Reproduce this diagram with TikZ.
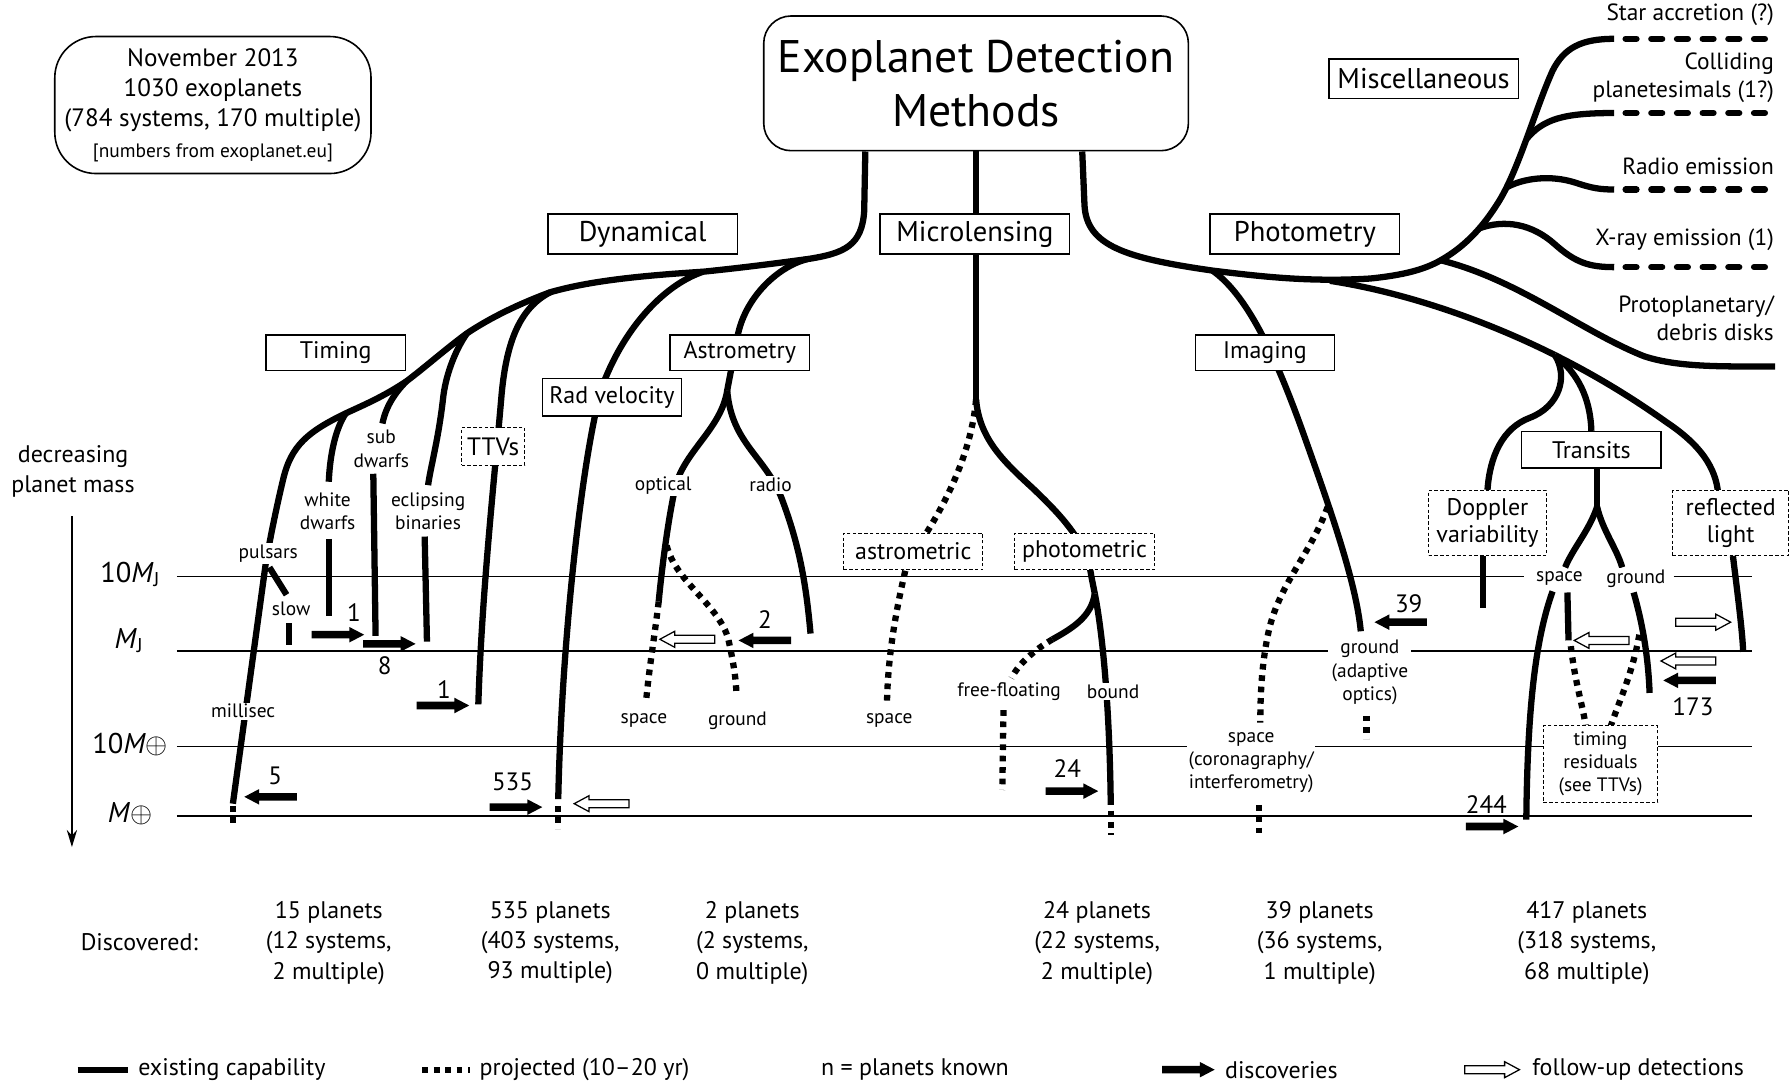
\documentclass[tikz,border=0pt]{standalone}
\usepackage{fontspec}
\setmainfont{PT Sans}
\usetikzlibrary{arrows.meta,backgrounds}

\newcommand{\fsz}[2]{\fontsize{#1}{#2}\selectfont}

\tikzset{
  exist/.style={line width=5.5pt},
  proj/.style={line width=5.5pt, dash pattern=on 5pt off 5pt},
  miscline/.style={line width=5.5pt, line cap=round, dash pattern=on 9.5pt off 13pt},
  level/.style={line width=1.4pt},
  catbox/.style={draw, line width=1.3pt, fill=white, inner sep=0pt,
    minimum width=166pt, minimum height=35pt, font=\fsz{25}{28}},
  subbox/.style={draw, line width=1.2pt, fill=white, inner sep=0pt,
    minimum width=122pt, minimum height=31pt, font=\fsz{21}{24}},
  probox/.style={draw, dash pattern=on 3pt off 2pt, line width=0.8pt, fill=white,
    inner sep=0pt, align=center, font=\fsz{21}{24}},
  lab/.style={fill=white, inner sep=1.5pt, align=center, font=\fsz{17}{20.5}},
  num/.style={inner sep=0pt, font=\fsz{22}{24}},
  found/.style={align=center, font=\fsz{21}{26.5}},
  misclab/.style={anchor=east, align=right, inner sep=0pt, font=\fsz{20.5}{24.5}},
  key/.style={anchor=west, inner sep=0pt, font=\fsz{21}{24}},
  masslab/.style={inner sep=0pt, font=\fsz{25}{28}},
  disc/.pic={\fill (0,-3.3) -- (33,-3.3) -- (33,-6.8) -- (46,0) -- (33,6.8) -- (33,3.3) -- (0,3.3) -- cycle;},
  fup/.pic={\draw[fill=white, line width=1.1pt] (0,-3.5) -- (35,-3.5) -- (35,-7) -- (48,0) -- (35,7) -- (35,3.5) -- (0,3.5) -- cycle;}
}

\begin{document}
\begin{tikzpicture}[x=1pt, y=-1pt]
\useasboundingbox (0,0) rectangle (1568,950);

% boxes
\node[draw, line width=1.4pt, rounded corners=24pt, minimum width=372pt, minimum height=118pt,
  align=center, inner sep=0pt, font=\fsz{40}{47}] (title) at (855,73) {Exoplanet Detection\\Methods};
\node[draw, line width=1.4pt, rounded corners=36pt, minimum width=277pt, minimum height=120pt,
  align=center, inner sep=0pt, font=\fsz{22}{26.5}] (info) at (186.5,92)
  {November 2013\\1030 exoplanets\\(784 systems, 170 multiple)\\{\fsz{17}{26.5}[numbers from exoplanet.eu]}};

\node[catbox] (dyn) at (563,205) {Dynamical};
\node[catbox] (micro) at (854,205) {Microlensing};
\node[catbox] (photo) at (1143,205) {Photometry};
\node[catbox] (misc) at (1247,69) {Miscellaneous};
\node[subbox] (timing) at (294,309) {Timing};
\node[subbox] (astro) at (648,309) {Astrometry};
\node[subbox, minimum height=33pt] (radvel) at (536,348) {Rad velocity};
\node[subbox] (imag) at (1108,309) {Imaging};
\node[subbox, minimum height=32pt] (trans) at (1394,394) {Transits};
\node[probox, minimum width=55pt, minimum height=33pt, font=\fsz{22}{24}] (ttv) at (432,391) {TTVs};
\node[probox, minimum width=122pt, minimum height=32pt] (astrom) at (800,483) {astrometric};
\node[probox, minimum width=122pt, minimum height=32pt] (photom) at (950,483) {photometric};
\node[probox, minimum width=103pt, minimum height=57pt] (doppler) at (1303,458) {Doppler\\variability};
\node[probox, minimum width=102pt, minimum height=57pt] (refl) at (1516,458) {reflected\\light};
\node[probox, minimum width=100pt, minimum height=67pt, font=\fsz{17}{20.5}] (tres) at (1402,669) {timing\\residuals\\(see TTVs)};

% branch labels
\node[lab] (pulsar) at (235,485) {pulsars};
\node[lab] (slow) at (255,533) {slow};
\node[lab] (msec) at (213,623) {millisec};
\node[lab] (wdw) at (287,448) {white\\dwarfs};
\node[lab] (sdw) at (334,393) {sub\\dwarfs};
\node[lab] (ecl) at (375,448) {eclipsing\\binaries};
\node[lab] (opt) at (581,425) {optical};
\node[lab] (radio) at (675,425) {radio};
\node[lab] (aspace) at (564,631) {space};
\node[lab] (aground) at (646,631) {ground};
\node[lab] (mspace) at (779,631) {space};
\node[lab] (ffloat) at (884,606) {free-floating};
\node[lab] (bound) at (975,606) {bound};
\node[lab] (iground) at (1200,589) {ground\\(adaptive\\optics)};
\node[lab] (ispace) at (1096,668) {space\\(coronagraphy/\\interferometry)};
\node[lab] (tspace) at (1366,507) {space};
\node[lab] (tground) at (1433,507) {ground};

% miscellaneous
\node[misclab] (acc) at (1554,13) {Star accretion (?)};
\node[misclab] (coll) at (1554,68) {Colliding\\planetesimals (1?)};
\node[misclab] (radem) at (1554,146) {Radio emission};
\node[misclab] (xray) at (1554,210) {X-ray emission (1)};
\node[misclab] (disk) at (1554,279) {Protoplanetary/\\debris disks};

% mass axis
\node[font=\fsz{21}{26}, align=center] (decr) at (64,413) {decreasing\\planet mass};
\coordinate (axtop) at (63,452);
\coordinate (axbot) at (63,742);
\node[masslab] (lmj10) at (114,503) {10\textit{M}\textsubscript{J}};
\node[masslab] (lmj) at (113,561) {\textit{M}\textsubscript{J}};
\node[masslab] (lme10) at (114,652) {10\textit{M}$\oplus$};
\node[masslab] (lme) at (114,713) {\textit{M}$\oplus$};

% counts
\node[num] (n1a) at (310,537) {1};
\node[num] (n8) at (337,583) {8};
\node[num] (n1b) at (389,604) {1};
\node[num] (n5) at (241,680) {5};
\node[num] (n535) at (449,685) {535};
\node[num] (n2) at (670,543) {2};
\node[num] (n24) at (935,673) {24};
\node[num] (n39) at (1234,529) {39};
\node[num] (n173) at (1483,619) {173};
\node[num] (n244) at (1302,705) {244};

\node[found] (disc0) at (122,825) {Discovered:};
\node[found] (dtim) at (288,826) {15 planets\\(12 systems,\\2 multiple)};
\node[found] (drv) at (482,826) {535 planets\\(403 systems,\\93 multiple)};
\node[found] (dast) at (659,826) {2 planets\\(2 systems,\\0 multiple)};
\node[found] (dmic) at (961,826) {24 planets\\(22 systems,\\2 multiple)};
\node[found] (dimg) at (1156,826) {39 planets\\(36 systems,\\1 multiple)};
\node[found] (dtra) at (1390,826) {417 planets\\(318 systems,\\68 multiple)};

% legend
\node[key] (kexist) at (121,937) {existing capability};
\node[key] (kproj) at (420,937) {projected (10–20 yr)};
\node[key] (kn) at (719,937) {n = planets known};
\node[key] (kdisc) at (1073,937) {discoveries};
\node[key] (kfup) at (1342,937) {follow-up detections};

% junctions
\coordinate (jdyn) at (707,227);
\coordinate (jrv) at (616,238);
\coordinate (jttv) at (482,256);
\coordinate (jecl) at (409,292);
\coordinate (jsdw) at (356,334);
\coordinate (jwdw) at (303,362);
\coordinate (jast) at (637,342);
\coordinate (jmic) at (855,350);
\coordinate (jphm) at (959,520);
\coordinate (jimg) at (1062,237);
\coordinate (jlow) at (1165,246);
\coordinate (jmis) at (1200,244);
\coordinate (jpro) at (1262,228);
\coordinate (jxry) at (1296,200);
\coordinate (jrad) at (1320,164);
\coordinate (jcol) at (1337,122);
\coordinate (jtr) at (1362,311);
\coordinate (jts) at (1399,444);

\begin{pgfonlayer}{background}
  % mass levels
  \draw[level] (155,505) -- (1335,505) (1466,505) -- (1535,505);
  \draw[level] (155,570) -- (1163,570) (1236,570) -- (1535,570);
  \draw[level] (155,654) -- (1535,654);
  \draw[level] (155,715) -- (1535,715);

  % dynamical
  \draw[exist] ([xshift=-97pt]title.south) -- (757,185) .. controls (755,215) and (740,222) .. (jdyn)
    .. controls (670,232) and (645,235) .. (jrv)
    .. controls (570,241) and (520,245) .. (jttv)
    .. controls (455,266) and (430,278) .. (jecl)
    .. controls (390,306) and (372,322) .. (jsdw)
    .. controls (335,348) and (318,355) .. (jwdw)
    .. controls (270,378) and (255,390) .. (248,420)
    .. controls (242,445) and (237,470) .. (233,492) -- (204,704);
  \draw[proj] (204,706) -- (204,725);
  \draw[exist] (236,497) -- (251,521);
  \draw[exist] (253,546) -- (253,565);
  \draw[exist] (jwdw) .. controls (294,375) and (289,398) .. (288,422);
  \draw[exist] (288,472) -- (288,540);
  \draw[exist] (jsdw) .. controls (346,344) and (338,356) .. (335,371);
  \draw[exist] (327,415) -- (329,557);
  \draw[exist] (jecl) .. controls (398,308) and (390,330) .. (388,350) .. controls (384,385) and (377,410) .. (375,425);
  \draw[exist] (372,470) -- (374,562);
  \draw[exist] (jttv) .. controls (455,270) and (443,300) .. (439,350) .. controls (433,420) and (422,520) .. (419,617);
  \draw[exist] (jrv) .. controls (580,250) and (545,290) .. (527,340) .. controls (510,400) and (492,560) .. (489,700);
  \draw[proj] (489,706) -- (489,726);
  \draw[exist] (jdyn) .. controls (680,234) and (652,262) .. (646,295) -- (jast);
  \draw[exist] (jast) .. controls (632,375) and (600,395) .. (592,425) .. controls (586,450) and (580,495) .. (577,527);
  \draw[proj] (577,527) .. controls (573,560) and (568,590) .. (566,614);
  \draw[proj] (584,478) .. controls (592,510) and (630,530) .. (638,560) .. controls (642,578) and (645,595) .. (645,608);
  \draw[exist] (jast) .. controls (641,390) and (672,400) .. (686,440) .. controls (700,478) and (706,510) .. (710,555);

  % microlensing
  \draw[exist] (title.south) -- (jmic);
  \draw[proj] (jmic) .. controls (851,395) and (830,440) .. (803,480);
  \draw[proj] (793,500) .. controls (786,530) and (778,570) .. (777,614);
  \draw[exist] (jmic) .. controls (858,385) and (880,405) .. (905,428) .. controls (930,452) and (952,475) .. (956,505) -- (jphm);
  \draw[exist] (jphm) .. controls (966,555) and (972,620) .. (973,705);
  \draw[proj] (973,710) -- (973,731);
  \draw[exist] (jphm) .. controls (956,540) and (940,550) .. (922,560);
  \draw[proj] (922,560) .. controls (905,570) and (892,582) .. (886,594);
  \draw[proj] (879,622) -- (878,692);

  % photometry and miscellaneous
  \draw[exist] ([xshift=93pt]title.south) -- (950,180) .. controls (952,215) and (985,226) .. (jimg)
    .. controls (1110,243) and (1150,247) .. (jmis)
    .. controls (1230,241) and (1248,236) .. (jpro)
    .. controls (1285,215) and (1300,197) .. (1312,178)
    .. controls (1330,150) and (1345,95) .. (1360,62)
    .. controls (1370,42) and (1385,34) .. (1414,34);
  \draw[miscline] (1424,34) -- (1548,34);
  \draw[exist] (jcol) .. controls (1352,104) and (1370,99) .. (1414,99);
  \draw[miscline] (1424,99) -- (1548,99);
  \draw[exist] (jrad) .. controls (1335,156) and (1358,153) .. (1380,160) .. controls (1395,165) and (1402,166) .. (1414,166);
  \draw[miscline] (1424,166) -- (1548,166);
  \draw[exist] (jxry) .. controls (1318,192) and (1342,196) .. (1362,214) .. controls (1380,230) and (1392,234) .. (1414,234);
  \draw[miscline] (1424,234) -- (1548,234);
  \draw[exist] (jpro) .. controls (1330,245) and (1385,290) .. (1440,312) .. controls (1470,322) and (1510,321) .. (1555,321);

  % imaging
  \draw[exist] (jimg) .. controls (1095,260) and (1120,320) .. (1140,375) .. controls (1165,445) and (1188,510) .. (1192,553);
  \draw[proj] (1163,444) .. controls (1148,485) and (1122,510) .. (1112,550) .. controls (1105,580) and (1104,610) .. (1104,633);
  \draw[proj] (1103,705) -- (1103,730);
  \draw[proj] (1197,627) -- (1197,647);

  % transits and friends
  \draw[exist] (jlow) .. controls (1230,256) and (1300,280) .. (jtr);
  \draw[exist] (jtr) .. controls (1374,330) and (1366,356) .. (1340,366) .. controls (1316,375) and (1305,400) .. (doppler.north);
  \draw[exist] (jtr) .. controls (1382,327) and (1393,348) .. (trans.north);
  \draw[exist] (jtr) .. controls (1392,326) and (1425,345) .. (1460,370) .. controls (1490,390) and (1503,410) .. (1505,432);
  \draw[exist] (1399,410) -- (jts);
  \draw[exist] (jts) .. controls (1392,465) and (1378,480) .. (1371,497);
  \draw[exist] (jts) .. controls (1404,465) and (1416,480) .. (1421,497);
  \draw[exist] (1360,518) .. controls (1345,560) and (1338,620) .. (1337,718);
  \draw[exist] (1373,519) -- (1374,561);
  \draw[proj] (1376,566) .. controls (1380,600) and (1387,620) .. (1389,636);
  \draw[exist] (1431,519) .. controls (1440,550) and (1444,580) .. (1445,607);
  \draw[proj] (1436,556) .. controls (1430,590) and (1418,615) .. (1411,636);
  \draw[exist] (1299,487) -- (1299,533);
  \draw[exist] (1518,487) .. controls (1522,520) and (1526,550) .. (1527,571);

  % legend lines
  \draw[exist] (68,937) -- (112,937);
  \draw[proj] (370,937) -- (412,937);
\end{pgfonlayer}

% mass axis arrow
\draw[level, -{Stealth[length=15pt, width=9pt]}] (axtop) -- (axbot);

% discoveries
\pic at (273,556) {disc};
\pic at (318,564) {disc};
\pic at (365,618) {disc};
\pic[xscale=-1] at (260,698) {disc};
\pic at (429,707) {disc};
\pic[xscale=-1] at (693,561) {disc};
\pic at (916,693) {disc};
\pic[xscale=-1] at (1250,545) {disc};
\pic[xscale=-1] at (1503,596) {disc};
\pic at (1284,724) {disc};
\pic at (1018,937) {disc};
% follow-up detections
\pic[xscale=-1] at (551,704) {fup};
\pic[xscale=-1] at (626,560) {fup};
\pic[xscale=-1] at (1427,561) {fup};
\pic at (1468,545) {fup};
\pic[xscale=-1] at (1503,579) {fup};
\pic at (1283,937) {fup};
\end{tikzpicture}
\end{document}
